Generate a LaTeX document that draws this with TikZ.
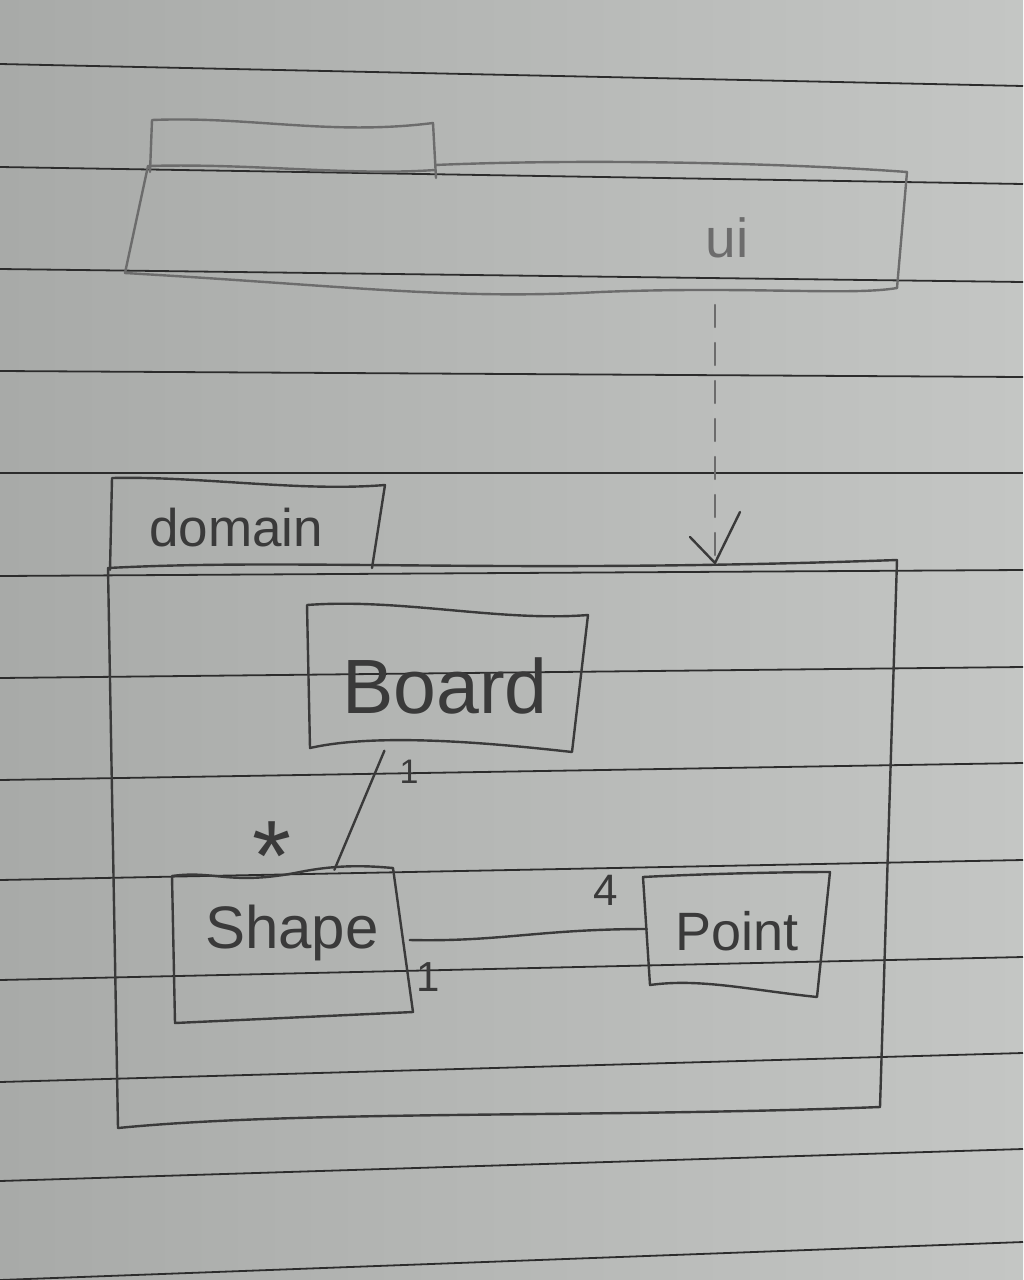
\documentclass[tikz,border=0pt]{standalone}
\usepackage{fontspec}
\setmainfont{Liberation Sans}
\usetikzlibrary{calc}
\definecolor{pen}{HTML}{3A3A3A}
\definecolor{penlight}{HTML}{6C6C6C}
\definecolor{rulecol}{HTML}{2C2C2C}
\definecolor{paperL}{HTML}{A8AAA8}
\definecolor{paperR}{HTML}{C4C6C4}
\begin{document}
\begin{tikzpicture}[x=1pt,y=-1pt,
  pencil/.style={draw=pen, line width=2.4pt, line cap=round, line join=round},
  faint/.style={draw=penlight, line width=2.4pt, line cap=round, line join=round},
  rulestyle/.style={draw=rulecol, line width=1.8pt},
  boxarea/.style={draw=none, inner sep=0pt, anchor=center},
  lbl/.style={text=pen, inner sep=0pt, anchor=center},
]
\useasboundingbox (0,0) rectangle (1023,1280);
% paper
\shade[left color=paperL, right color=paperR, draw=none] (0,0) rectangle (1023,1280);
% ruled lines
\foreach \yl/\yr in {64/86,167/184,269/282,371/377,473/473,576/570,678/667,780/763,880/860,980/957,1082/1053,1181/1149,1280/1242}
  \draw[rulestyle] (0,\yl) -- (1023,\yr);

% ---------- ui package ----------
\draw[faint] (150,172) -- (152,120) .. controls (250,116) and (330,136) .. (433,123) -- (436,178);
\draw[faint] (148,166) .. controls (250,163) and (350,176) .. (435,170);
\draw[faint] (435,165) .. controls (600,158) and (800,164) .. (907,172);
\draw[faint] (148,166) -- (125,273);
\draw[faint] (907,172) -- (897,288);
\draw[faint] (125,273) .. controls (350,286) and (450,300) .. (600,292) .. controls (750,286) and (850,296) .. (897,288);
\node[lbl, text=penlight, font=\fontsize{55}{55}\selectfont] (uilabel) at (727,238) {ui};
\coordinate (depstart) at (715,305);

% ---------- domain package ----------
\draw[pencil] (110,570) -- (112,478) .. controls (200,476) and (300,492) .. (385,485) -- (372,568);
\draw[pencil] (108,568) .. controls (300,558) and (500,574) .. (897,560);
\draw[pencil] (108,568) -- (118,1128);
\draw[pencil] (897,560) -- (880,1107);
\draw[pencil] (118,1128) .. controls (300,1110) and (600,1118) .. (880,1107);
\node[lbl, font=\fontsize{53}{53}\selectfont] (domainlabel) at (236,528) {domain};
\coordinate (deptip) at (715,563);

% dependency ui -> domain
\draw[faint, dash pattern=on 22pt off 16pt] (depstart) -- (deptip);
\draw[pencil] (690,537) -- (deptip) -- (740,512);

% ---------- classes ----------
\node[boxarea, minimum width=275pt, minimum height=145pt] (board) at (445,678) {};
\node[boxarea, minimum width=235pt, minimum height=150pt] (shape) at (292,945) {};
\node[boxarea, minimum width=180pt, minimum height=120pt] (point) at (737,935) {};

\draw[pencil] (307,605) .. controls (400,598) and (500,622) .. (588,615) -- (572,752)
  .. controls (500,744) and (380,732) .. (310,748) -- cycle;
\draw[pencil] (172,876) .. controls (215,870) and (230,886) .. (300,872)
  .. controls (340,864) and (370,866) .. (393,868) -- (413,1012) -- (175,1023) -- cycle;
\draw[pencil] (643,877) .. controls (700,874) and (780,872) .. (830,872) -- (817,997)
  .. controls (750,990) and (700,978) .. (650,985) -- cycle;

\node[lbl, font=\fontsize{77}{77}\selectfont] (boardname) at (board.center) [yshift=-8pt] {Board};
\node[lbl, font=\fontsize{60}{60}\selectfont] (shapename) at (shape.center) [yshift=12pt] {Shape};
\node[lbl, font=\fontsize{54}{54}\selectfont] (pointname) at (point.center) [yshift=4pt] {Point};

% associations
\draw[pencil] ($(board.south west)!0.28!(board.south east)$) -- ($(shape.north west)!0.68!(shape.north east)$);
\draw[pencil] ([yshift=5pt]shape.east) .. controls (500,942) and (540,929) .. ([yshift=6pt]point.west);

% multiplicities
\node[lbl, font=\fontsize{34}{34}\selectfont] (m1) at (409,772) {1};
\node[lbl, font=\fontsize{100}{100}\selectfont] (m2) at (272,832) {\raisebox{-0.43em}[0.3em][0pt]{*}};
\node[lbl, font=\fontsize{44}{44}\selectfont] (m3) at (606,890) {4};
\node[lbl, font=\fontsize{42}{42}\selectfont] (m4) at (428,977) {1};
\end{tikzpicture}
\end{document}
